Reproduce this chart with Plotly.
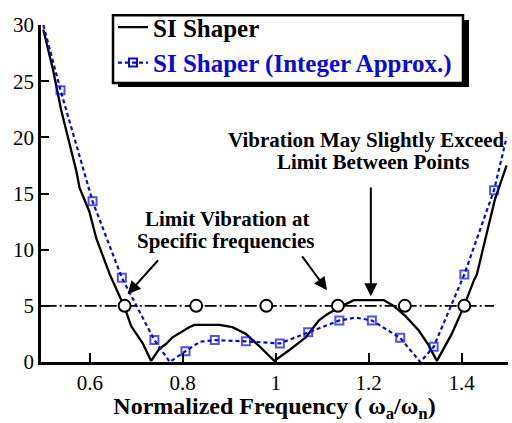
import plotly.graph_objects as go

# Residual vibration of the SI shaper versus normalized frequency
si_freq = [0.500, 0.521, 0.538, 0.5635, 0.571, 0.578, 0.599, 0.614, 0.643, 0.675,
           0.689, 0.714, 0.732, 0.750, 0.764, 0.778, 0.793, 0.814, 0.825, 0.879,
           0.907, 0.936, 0.965, 0.986, 0.997, 1.029, 1.065, 1.093, 1.111, 1.136,
           1.168, 1.233, 1.254, 1.279, 1.308, 1.329, 1.347, 1.379, 1.404, 1.426,
           1.433, 1.472, 1.497]
si_vib = [29.6, 26.0, 22.5, 18.1, 17.0, 15.5, 13.4, 11.0, 7.8, 4.85,
          3.2, 1.66, 0.1, 1.2, 1.6, 2.2, 2.6, 3.1, 3.3, 3.3,
          3.1, 2.5, 1.4, 0.6, 0.1, 1.05, 2.2, 3.7, 4.25, 4.84,
          5.5, 5.5, 5.0, 4.1, 2.8, 1.5, 0.1, 2.5, 4.84, 7.2,
          7.8, 14.5, 17.5]

# Integer-approximated shaper: curve points, sampled points flagged
int_freq = [0.500, 0.537, 0.606, 0.669, 0.739, 0.772, 0.806, 0.837, 0.869, 0.936,
            1.009, 1.070, 1.137, 1.172, 1.207, 1.268, 1.311, 1.340, 1.406, 1.470,
            1.497]
int_vib = [30.0, 24.2, 14.3, 7.5, 1.95, 0.0, 0.96, 1.8, 1.95, 1.84,
           1.65, 2.65, 3.7, 3.95, 3.7, 2.15, 0.0, 1.35, 7.8, 15.3,
           20.0]
int_sampled = [False, True, True, True, True, False, True, False, True, True,
               True, True, True, False, True, True, False, True, True, True,
               False]

# Vibration limit and the constraint frequencies
limit_level = 5
limit_span = [0.503, 1.47]
constraint_freq = [0.675, 0.829, 0.980, 1.134, 1.278, 1.406]

x_ticks = [0.6, 0.8, 1.0, 1.2, 1.4]
x_tick_text = ["0.6", "0.8", "1", "1.2", "1.4"]
y_ticks = [0, 5, 10, 15, 20, 25, 30]

FONT = "Liberation Serif, Times New Roman, serif"
BLUE = "#0a0ad8"

# plot-area geometry in pixels, used to place the legend frame in paper units
PL, PR, PT, PB = 41, 508, 19, 362


def px_x(p):
    return (p - PL) / (PR - PL)


def px_y(p):
    return (PB - p) / (PB - PT)


fig = go.Figure()

fig.add_trace(go.Scatter(
    x=si_freq, y=si_vib, mode="lines", name="<b>SI Shaper</b>",
    line=dict(color="black", width=2.3), legendgroup="a",
))

fig.add_trace(go.Scatter(
    x=int_freq, y=int_vib, mode="lines+markers", showlegend=False,
    line=dict(color=BLUE, width=2.2, dash="4px,3px"),
    marker=dict(symbol="square-open", color=BLUE, line=dict(width=2, color=BLUE),
                size=[8 if s else 0 for s in int_sampled]),
))
# legend entry for the integer-approximated curve
fig.add_trace(go.Scatter(
    x=[None], y=[None], mode="lines+markers", legendgroup="b",
    name='<span style="color:%s"><b>SI Shaper (Integer Approx.)</b></span>' % BLUE,
    line=dict(color=BLUE, width=2.2, dash="4px,3px"),
    marker=dict(symbol="square-open", color=BLUE, size=8, line=dict(width=2, color=BLUE)),
))

fig.add_trace(go.Scatter(
    x=limit_span, y=[limit_level] * 2, mode="lines", showlegend=False,
    line=dict(color="black", width=1.6, dash="12px,3px,2px,3px"),
))
fig.add_trace(go.Scatter(
    x=constraint_freq, y=[limit_level] * len(constraint_freq), mode="markers",
    showlegend=False,
    marker=dict(symbol="circle", size=12, color="white", line=dict(color="black", width=2)),
))

text_font = dict(family=FONT, size=21, color="black")
labels = [
    (0.896, 12.77, "<b>Limit Vibration at</b>"),
    (0.893, 10.80, "<b>Specific frequencies</b>"),
    (1.196, 19.73, "<b>Vibration May Slightly Exceed</b>"),
    (1.209, 17.80, "<b>Limit Between Points</b>"),
]
for lx, ly, txt in labels:
    fig.add_annotation(x=lx, y=ly, text=txt, showarrow=False, font=text_font,
                       xanchor="center", yanchor="middle")

arrows = [
    ((0.750, 9.19), (0.6815, 6.04)),
    ((1.0547, 9.54), (1.1105, 6.39)),
    ((1.2048, 15.66), (1.2048, 5.86)),
]
for (tx, ty), (hx, hy) in arrows:
    fig.add_annotation(x=hx, y=hy, ax=tx, ay=ty, axref="x", ayref="y", text="",
                       showarrow=True, arrowhead=2, arrowsize=1.3, arrowwidth=2,
                       arrowcolor="black", standoff=0)

# legend frame with a drop shadow; the legend itself is transparent on top
fig.add_shape(type="rect", xref="paper", yref="paper",
              x0=px_x(118), x1=px_x(469), y0=px_y(82), y1=px_y(14),
              fillcolor="black", line=dict(width=0), layer="above")
fig.add_shape(type="rect", xref="paper", yref="paper",
              x0=px_x(113), x1=px_x(463), y0=px_y(78), y1=px_y(9),
              fillcolor="white", line=dict(color="black", width=2.5), layer="above")

fig.update_layout(
    width=512, height=423,
    margin=dict(l=PL, r=512 - PR, t=PT, b=423 - PB),
    paper_bgcolor="white", plot_bgcolor="white",
    font=dict(family=FONT, color="black"),
    showlegend=True,
    legend=dict(x=px_x(113), y=px_y(-2), xanchor="left", yanchor="top",
                bgcolor="rgba(0,0,0,0)", borderwidth=0,
                font=dict(family=FONT, size=25, color="black"),
                traceorder="grouped", tracegroupgap=0),
    xaxis=dict(range=[0.495, 1.5], tickvals=x_ticks, ticktext=x_tick_text,
               ticks="inside", ticklen=9, tickwidth=2, tickcolor="black",
               showline=True, linecolor="black", linewidth=2.5, showgrid=False,
               zeroline=False, tickfont=dict(family=FONT, size=21, color="black"),
               title=dict(text="<b>Normalized Frequency ( ω<sub>a</sub>/ω<sub>n</sub>)</b>",
                          font=dict(family=FONT, size=24, color="black"), standoff=7)),
    yaxis=dict(range=[0, 30], tickvals=y_ticks, ticks="inside", ticklen=8, tickwidth=2,
               tickcolor="black", showline=True, linecolor="black", linewidth=2.5,
               showgrid=False, zeroline=False,
               tickfont=dict(family=FONT, size=21, color="black")),
)

fig.write_html("out.html")
